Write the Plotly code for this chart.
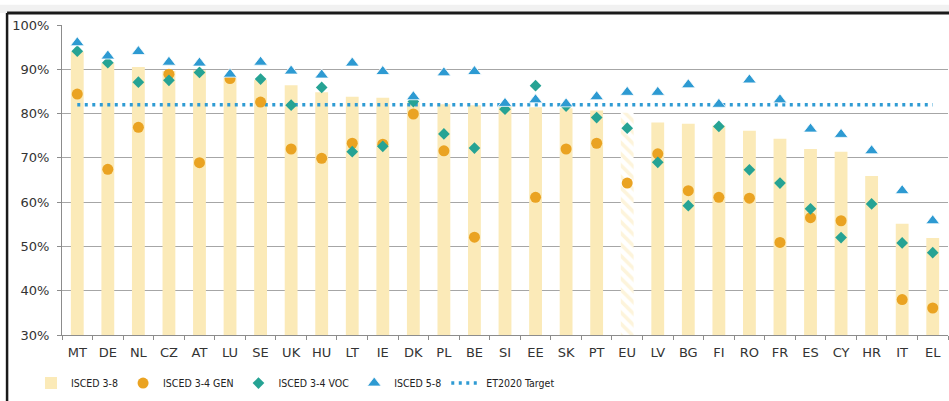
import plotly.graph_objects as go

# countries in chart order
countries = ['MT', 'DE', 'NL', 'CZ', 'AT', 'LU', 'SE', 'UK', 'HU', 'LT', 'IE', 'DK', 'PL', 'BE', 'SI',
             'EE', 'SK', 'PT', 'EU', 'LV', 'BG', 'FI', 'RO', 'FR', 'ES', 'CY', 'HR', 'IT', 'EL']

# employment rates of recent graduates (%)
isced_38 = [94.0, 91.5, 90.5, 89.6, 89.8, 88.0, 87.6, 86.4, 84.8, 83.8, 83.6, 82.5, 82.1, 81.9, 81.7,
            81.4, 81.2, 80.7, 80.2, 78.0, 77.7, 77.3, 76.1, 74.3, 72.0, 71.4, 65.9, 55.1, 51.9]
isced_34_gen = [84.4, 67.4, 76.9, 88.9, 68.9, 87.9, 82.6, 72.0, 69.9, 73.3, 73.1, 79.9, 71.6, 52.1, None,
                61.1, 72.0, 73.3, 64.3, 70.9, 62.6, 61.1, 60.9, 50.9, 56.5, 55.8, None, 38.0, 36.1]
isced_34_voc = [94.1, 91.5, 87.1, 87.5, 89.3, None, 87.8, 81.9, 85.9, 71.4, 72.6, 82.7, 75.4, 72.2, 81.0,
                86.3, 81.7, 79.1, 76.7, 69.0, 59.2, 77.1, 67.3, 64.3, 58.5, 52.0, 59.6, 50.8, 48.6]
isced_58 = [96.0, 93.0, 94.0, 91.6, 91.4, 88.9, 91.6, 89.6, 88.7, 91.4, 89.5, 83.8, 89.2, 89.5, 82.3,
            83.1, 82.2, 83.8, 84.8, 84.8, 86.5, 82.1, 87.6, 83.1, 76.5, 75.3, 71.6, 62.6, 55.8]
target = 82

bar_col = '#fbeab8'
fig = go.Figure()

# bars, EU average hatched
fig.add_bar(x=countries, y=isced_38, name='ISCED 3-8', width=0.42,
            marker=dict(color=bar_col, line=dict(width=0),
                        pattern=dict(shape=['\\' if c == 'EU' else '' for c in countries],
                                     fgcolor=bar_col, bgcolor='white', size=8, solidity=0.45)))

fig.add_scatter(x=countries, y=[target] * len(countries), mode='lines', name='ET2020 Target',
                line=dict(color='#2f9bd3', width=3.5, dash='3px,4.5px'))

fig.add_scatter(x=countries, y=isced_34_gen, mode='markers', name='ISCED 3-4 GEN',
                marker=dict(symbol='circle', size=11, color='#eaa322', line=dict(width=0)))
fig.add_scatter(x=countries, y=isced_34_voc, mode='markers', name='ISCED 3-4 VOC',
                marker=dict(symbol='diamond', size=9, color='#26a394', line=dict(width=0)))
fig.add_scatter(x=countries, y=isced_58, mode='markers', name='ISCED 5-8',
                marker=dict(symbol='triangle-up', size=12, color='#2d9ad2', line=dict(width=0.8, color='white')))

# reorder legend like the original
legend_rank = {'ISCED 3-8': 1, 'ISCED 3-4 GEN': 2, 'ISCED 3-4 VOC': 3, 'ISCED 5-8': 4, 'ET2020 Target': 5}
for t in fig.data:
    t.legendrank = legend_rank[t.name]

fig.update_layout(
    width=949, height=401,
    margin=dict(l=62, r=1, t=25, b=66),
    plot_bgcolor='white', paper_bgcolor='white',
    font=dict(family='DejaVu Sans, Verdana, sans-serif', size=13, color='#333333'),
    showlegend=True,
    legend=dict(orientation='h', x=-0.035, xanchor='left', y=-0.155, yanchor='middle',
                font=dict(family='Liberation Sans Narrow, DejaVu Sans Condensed, sans-serif', size=10.5,
                          color='#222222'),
                itemwidth=30, traceorder='normal', tracegroupgap=0, bgcolor='rgba(0,0,0,0)'),
    xaxis=dict(type='category', tickson='boundaries', ticks='outside', ticklen=4, tickcolor='#8c8c8c',
               showline=True, linecolor='#8c8c8c', linewidth=1, showgrid=False, ticklabelstandoff=5,
               range=[-0.5, len(countries) - 0.5]),
    yaxis=dict(range=[30, 100], dtick=10, ticksuffix='%', ticks='outside', ticklen=4, tickcolor='#8c8c8c',
               showline=True, linecolor='#8c8c8c', linewidth=1, ticklabelstandoff=5,
               gridcolor='#a6a6a6', gridwidth=1, zeroline=False),
)

# frame around the chart, with a faint shade above it
fig.add_shape(type='rect', xref='paper', yref='paper', x0=-0.1, x1=1.1, y0=1.039, y1=1.065,
              fillcolor='#f1f1f1', line=dict(width=0), layer='below')
fig.add_shape(type='line', xref='paper', yref='paper', x0=-0.062, x1=1.01, y0=1.039, y1=1.039,
              line=dict(color='#1a1a1a', width=3))
fig.add_shape(type='line', xref='paper', yref='paper', x0=-0.062, x1=-0.062, y0=1.039, y1=-0.25,
              line=dict(color='#1a1a1a', width=2.5))

# drop the default page margin so the chart sits at the top-left corner
fig.write_html("out.html", config={'displayModeBar': False},
               post_script="document.body.style.margin='0';")
